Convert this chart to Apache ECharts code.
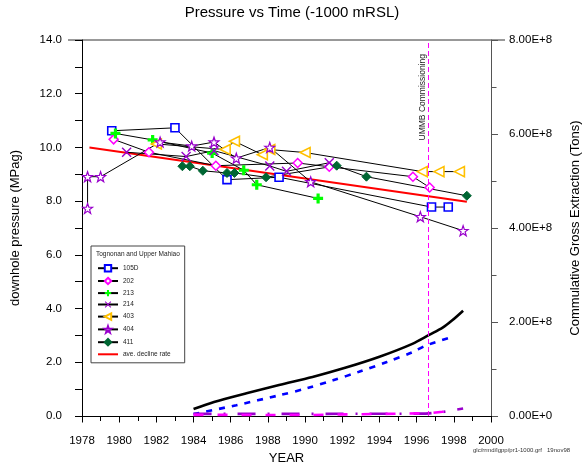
<!DOCTYPE html>
<html><head><meta charset="utf-8">
<script src="https://cdn.jsdelivr.net/npm/echarts@6/dist/echarts.min.js"></script>
<style>html,body{margin:0;padding:0;background:#fff}#c{width:584px;height:466px}</style>
</head><body><div id="c"></div>
<script>
// ---- data ----
const years105D = [1979.6, 1983.0, 1985.8, 1988.6, 1996.8, 1997.7];
const p105D     = [10.62, 10.73, 8.80, 8.89, 7.78, 7.78];
const years202  = [1979.7, 1981.6, 1985.2, 1989.6, 1991.3, 1995.8, 1996.7];
const p202      = [10.30, 9.82, 9.32, 9.42, 9.28, 8.91, 8.51];
const years213  = [1979.8, 1981.8, 1985.0, 1986.7, 1987.4, 1990.7];
const p213      = [10.52, 10.28, 9.79, 9.15, 8.61, 8.10];
const years214  = [1980.4, 1983.6, 1985.1, 1988.1, 1989.0, 1991.3];
const p214      = [9.82, 9.66, 9.88, 9.31, 9.11, 9.43];
const years403  = [1982.0, 1985.7, 1986.2, 1987.7, 1988.1, 1990.0, 1996.3, 1997.2, 1998.3];
const p403      = [10.13, 9.92, 10.23, 9.73, 9.92, 9.81, 9.10, 9.10, 9.10];
const years404  = [1978.3, 1978.3, 1979.0, 1982.2, 1983.9, 1985.1, 1986.3, 1988.1, 1990.3, 1996.2, 1998.5];
const p404      = [7.73, 8.91, 8.91, 10.20, 10.05, 10.20, 9.60, 10.00, 8.72, 7.42, 6.90];
const years411  = [1983.4, 1983.8, 1984.5, 1985.8, 1986.2, 1987.9, 1991.7, 1993.3, 1998.7];
const p411      = [9.30, 9.30, 9.13, 9.05, 9.05, 8.89, 9.32, 8.91, 8.20];
const yearsAve  = [1978.4, 1998.7];
const pAve      = [10.00, 7.98];
// cumulative gross extraction (tons)
const yearsCumTotal = [1984.0, 1985.1, 1986.9, 1988.6, 1990.4, 1992.2, 1994.0, 1995.8, 1996.7, 1997.4, 1997.9, 1998.5];
const cumTotal      = [0.15e8, 0.30e8, 0.49e8, 0.66e8, 0.83e8, 1.03e8, 1.26e8, 1.54e8, 1.73e8, 1.88e8, 2.03e8, 2.24e8];
const yearsCumBlue  = [1984.0, 1986.3, 1988.6, 1990.1, 1991.5, 1992.9, 1994.4, 1995.8, 1996.5, 1997.9];
const cumBlue       = [0.04e8, 0.23e8, 0.44e8, 0.59e8, 0.76e8, 0.94e8, 1.15e8, 1.36e8, 1.50e8, 1.68e8];
const yearsCumPurple = [1984.0, 1990.0, 1996.5, 1997.4, 1998.5];
const cumPurple      = [0.045e8, 0.045e8, 0.05e8, 0.085e8, 0.16e8];
const yearsCumMagenta = [1984.0, 1990.0, 1996.7, 1997.4, 1998.0];
const cumMagenta      = [0.025e8, 0.02e8, 0.06e8, 0.09e8, 0.27e8];
const commissioningYear = 1996.6;
const xTicks = {min: 1978, max: 2000, step: 2};
const leftTicks = {min: 0, max: 14, step: 2};
const rightTicks = {min: 0, max: 8e8, step: 2e8};

const pairs = (xs, ys) => xs.map((x, i) => [x, ys[i]]);
const FONT = 'Liberation Sans, Arial, sans-serif';
const STAR = 'path://M0,-10 L2.35,-3.24 L9.51,-3.09 L3.8,1.24 L5.88,8.09 L0,4 L-5.88,8.09 L-3.8,1.24 L-9.51,-3.09 L-2.35,-3.24 Z';
const PLUS = 'path://M-1.6,-5 H1.6 V-1.6 H5 V1.6 H1.6 V5 H-1.6 V1.6 H-5 V-1.6 H-1.6 Z';
const CROSS = 'path://M-5,-4 L-4,-5 L0,-1 L4,-5 L5,-4 L1,0 L5,4 L4,5 L0,1 L-4,5 L-5,4 L-1,0 Z';
const TRI_L = 'path://M-5,0 L5,-5 L5,5 Z';

function pSeries(name, xs, ys, symbol, size, itemStyle) {
  return {
    name, type: 'line', data: pairs(xs, ys), symbol, symbolSize: size,
    lineStyle: {color: '#000', width: 1}, itemStyle, z: 3, animation: false,
    emphasis: {disabled: true}
  };
}

const chart = echarts.init(document.getElementById('c'));
chart.setOption({
  animation: false,
  backgroundColor: '#fff',
  textStyle: {fontFamily: FONT},
  title: [
    {text: 'Pressure vs Time (-1000 mRSL)', left: 'center', top: 5, padding: 0,
     textStyle: {fontSize: 15, fontWeight: 'normal', color: '#000', fontFamily: FONT}},
    {text: 'Tognonan and Upper Mahiao', left: 96, top: 251, padding: 0, z: 10,
     textStyle: {fontSize: 6.5, fontWeight: 'normal', color: '#222', fontFamily: FONT}},
    {text: 'glc/rrmd/lgpp/pr1-1000.grf   19nov98', left: 473, top: 447, padding: 0,
     textStyle: {fontSize: 6, fontWeight: 'normal', color: '#333', fontFamily: FONT}}
  ],
  grid: {left: 82, right: 93, top: 40, bottom: 50, containLabel: false, outerBoundsMode: 'none'},
  legend: {
    orient: 'vertical', left: 91, top: 246, padding: [18, 14, 5, 6],
    itemWidth: 20, itemHeight: 8, itemGap: 4.4,
    borderColor: '#444', borderWidth: 1, backgroundColor: '#fff',
    textStyle: {fontSize: 6.5, color: '#222', fontFamily: FONT},
    data: ['105D', '202', '213', '214', '403', '404', '411',
           {name: 'ave. decline rate', icon: 'path://M0,0 H20 V2 H0 Z'}],
    selectedMode: false
  },
  xAxis: [{
    type: 'value', min: xTicks.min, max: xTicks.max, interval: xTicks.step,
    name: 'YEAR', nameLocation: 'middle', nameGap: 33,
    nameTextStyle: {fontSize: 13, color: '#000'},
    axisLine: {show: true, onZero: false, lineStyle: {color: '#000', width: 1}},
    axisTick: {show: true, length: 6.5, lineStyle: {color: '#000'}},
    minorTick: {show: true, splitNumber: 2, length: 5, lineStyle: {color: '#000'}},
    axisLabel: {fontSize: 11.5, color: '#000', margin: 19, formatter: v => String(Math.round(v))},
    splitLine: {show: false}
  }],
  yAxis: [{
    type: 'value', min: leftTicks.min, max: leftTicks.max, interval: leftTicks.step,
    name: 'downhole pressure (MPag)', nameLocation: 'middle', nameGap: 60, nameRotate: 90,
    nameTextStyle: {fontSize: 13, color: '#000'},
    axisLine: {show: true, lineStyle: {color: '#000', width: 1}},
    axisTick: {show: true, length: 7, lineStyle: {color: '#000'}},
    minorTick: {show: true, splitNumber: 2, length: 7, lineStyle: {color: '#000'}},
    axisLabel: {fontSize: 11.5, color: '#000', margin: 20, formatter: v => v.toFixed(1)},
    splitLine: {show: false}
  }, {
    type: 'value', position: 'right', min: rightTicks.min, max: rightTicks.max, interval: rightTicks.step,
    name: 'Commulative Gross Extraction (Tons)', nameLocation: 'middle', nameGap: 78, nameRotate: 90,
    nameTextStyle: {fontSize: 13, color: '#000'},
    axisLine: {show: true, lineStyle: {color: '#555', width: 1}},
    axisTick: {show: true, length: 7, lineStyle: {color: '#555'}},
    minorTick: {show: true, splitNumber: 2, length: 5.5, lineStyle: {color: '#555'}},
    axisLabel: {fontSize: 11.5, color: '#000', margin: 18,
      formatter: v => v === 0 ? '0.00E+0' : (v / 1e8).toFixed(2) + 'E+8'},
    splitLine: {show: false}
  }],
  graphic: [{type: 'line', shape: {x1: 68, y1: 40, x2: 505, y2: 40}, style: {stroke: '#333', lineWidth: 1}, silent: true}],
  series: [
    {name: 'cum total', type: 'line', yAxisIndex: 1, data: pairs(yearsCumTotal, cumTotal), symbol: 'none',
     smooth: 0.3, lineStyle: {color: '#000', width: 2.6}, z: 2},
    {name: 'cum blue', type: 'line', yAxisIndex: 1, data: pairs(yearsCumBlue, cumBlue), symbol: 'none',
     smooth: 0.3, lineStyle: {color: '#0000ff', width: 2.6, type: [6, 7]}, z: 2},
    {name: 'cum purple', type: 'line', yAxisIndex: 1, data: pairs(yearsCumPurple, cumPurple), symbol: 'none',
     lineStyle: {color: '#9900cc', width: 2.6, type: [18, 12, 2, 12]}, z: 2},
    {name: 'cum magenta', type: 'line', yAxisIndex: 1, data: pairs(yearsCumMagenta, cumMagenta), symbol: 'none',
     lineStyle: {color: '#ff00ff', width: 2.6, type: [10, 14]}, z: 2},
    {name: 'ave. decline rate', type: 'line', data: pairs(yearsAve, pAve), symbol: 'none',
     lineStyle: {color: '#ff0000', width: 2}, itemStyle: {color: '#ff0000'}, z: 2,
     markLine: {silent: true, symbol: 'none', animation: false,
       data: [{xAxis: commissioningYear}],
       lineStyle: {color: '#ff00ff', type: [5, 3], width: 1},
       label: {show: true, position: 'insideEndTop', formatter: 'UMMB Commissioning',
               fontSize: 8.5, color: '#222', distance: [14, 1], fontFamily: FONT}}},
    pSeries('105D', years105D, p105D, 'rect', 8, {color: '#fff', borderColor: '#0000ff', borderWidth: 1.6}),
    pSeries('202', years202, p202, 'diamond', 9, {color: '#fff', borderColor: '#ff00ff', borderWidth: 1.5}),
    pSeries('213', years213, p213, PLUS, 10, {color: '#00ff00', borderWidth: 0}),
    pSeries('214', years214, p214, CROSS, 10, {color: '#9900cc', borderWidth: 0}),
    pSeries('403', years403, p403, TRI_L, 10, {color: '#fff', borderColor: '#ffc000', borderWidth: 1.6}),
    pSeries('404', years404, p404, STAR, 10, {color: '#fff', borderColor: '#9900cc', borderWidth: 1.2}),
    pSeries('411', years411, p411, 'diamond', 9, {color: '#006633', borderColor: '#006633', borderWidth: 1})
  ]
});
</script></body></html>
